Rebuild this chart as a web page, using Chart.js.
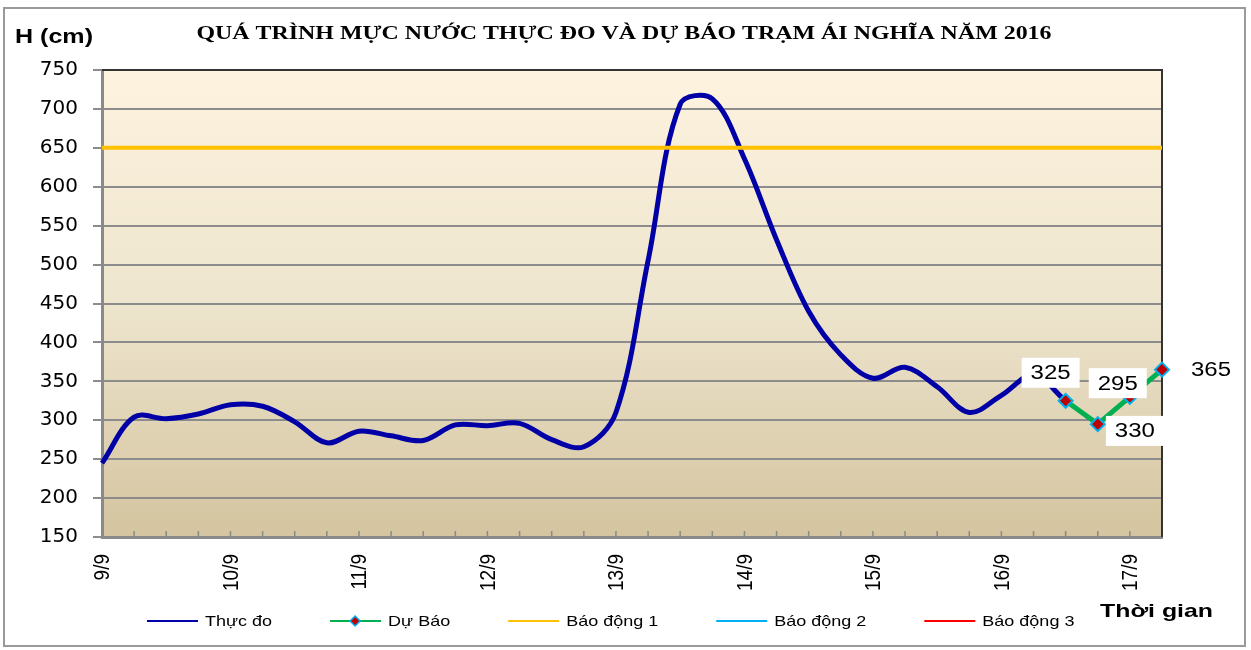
<!DOCTYPE html>
<html>
<head>
<meta charset="utf-8">
<script src="https://cdn.jsdelivr.net/npm/chart.js@4"></script>
<style>
  html, body { margin: 0; padding: 0; background: #fff; }
</style>
</head>
<body>
<canvas id="chart" width="1251" height="650"></canvas>
<script>
// observation times, every 6 hours
const times = [
    '9/9 1h', '9/9 7h', '9/9 13h', '9/9 19h',
    '10/9 1h', '10/9 7h', '10/9 13h', '10/9 19h',
    '11/9 1h', '11/9 7h', '11/9 13h', '11/9 19h',
    '12/9 1h', '12/9 7h', '12/9 13h', '12/9 19h',
    '13/9 1h', '13/9 7h', '13/9 13h', '13/9 19h',
    '14/9 1h', '14/9 7h', '14/9 13h', '14/9 19h',
    '15/9 1h', '15/9 7h', '15/9 13h', '15/9 19h',
    '16/9 1h', '16/9 7h', '16/9 13h', '16/9 19h',
    '17/9 1h', '17/9 7h'
];

// H (cm)
const thucDo = [
    245, 304, 302, 308, 320, 318, 298, 271,
    286, 280, 274, 294, 293, 296, 275, 266,
    310, 505, 706, 713, 636, 532, 440, 384,
    354, 368, 343, 310, 332, 358, 325, null,
    null, null
];
const duBao = [
    null, null, null, null, null, null, null, null,
    null, null, null, null, null, null, null, null,
    null, null, null, null, null, null, null, null,
    null, null, null, null, null, null, 325, 295,
    330, 365
];
const baoDong1 = [
    650, 650, 650, 650, 650, 650, 650, 650,
    650, 650, 650, 650, 650, 650, 650, 650,
    650, 650, 650, 650, 650, 650, 650, 650,
    650, 650, 650, 650, 650, 650, 650, 650,
    650, 650
];
const baoDong2 = [];
const baoDong3 = [];

const yTicks = [150, 200, 250, 300, 350, 400, 450, 500, 550, 600, 650, 700, 750];

const title = 'QUÁ TRÌNH MỰC NƯỚC THỰC ĐO VÀ DỰ BÁO TRẠM ÁI NGHĨA NĂM 2016';

// the original picture is stretched sideways, so free text is too
const SX = 1.2;

function dayLabel(i) {
    return times[i].endsWith(' 1h') ? times[i].split(' ')[0] : '';
}

function stretchedText(ctx, text, x, y, font, align, fitWidth) {
    ctx.save();
    ctx.font = font;
    ctx.fillStyle = '#000';
    ctx.textBaseline = 'middle';
    ctx.textAlign = 'left';
    const raw = ctx.measureText(text).width;
    const sx = fitWidth ? fitWidth / raw : SX;
    const w = raw * sx;
    let left = x;
    if (align === 'center') left = x - w / 2;
    else if (align === 'right') left = x - w;
    ctx.translate(left, y);
    ctx.scale(sx, 1);
    ctx.fillText(text, 0, 0);
    ctx.restore();
    return w;
}

function diamond(ctx, x, y, r, fill, stroke, lw) {
    ctx.save();
    ctx.beginPath();
    ctx.moveTo(x, y - r);
    ctx.lineTo(x + r, y);
    ctx.lineTo(x, y + r);
    ctx.lineTo(x - r, y);
    ctx.closePath();
    ctx.fillStyle = fill;
    ctx.fill();
    ctx.lineWidth = lw;
    ctx.strokeStyle = stroke;
    ctx.stroke();
    ctx.restore();
}

const backdrop = {
    id: 'backdrop',
    beforeDraw(chart) {
        const { ctx, chartArea: a } = chart;
        ctx.save();
        const g = ctx.createLinearGradient(0, a.top, 0, a.bottom);
        g.addColorStop(0, '#FDF3DF');
        g.addColorStop(0.5, '#EEE5CE');
        g.addColorStop(1, '#D4C49F');
        ctx.fillStyle = g;
        ctx.fillRect(a.left, a.top, a.right - a.left, a.bottom - a.top);
        ctx.restore();
    },
    beforeDatasetsDraw(chart) {
        const { ctx, chartArea: a } = chart;
        const xs = chart.scales.x;
        ctx.save();
        // small inner tick marks on the time axis
        ctx.strokeStyle = '#8a8a8a';
        ctx.lineWidth = 1.5;
        for (let i = 0; i < times.length; i++) {
            const x = xs.getPixelForTick(i);
            ctx.beginPath();
            ctx.moveTo(x, a.bottom - 6);
            ctx.lineTo(x, a.bottom);
            ctx.stroke();
        }
        // top and right frame of the plot
        ctx.strokeStyle = '#333';
        ctx.lineWidth = 2;
        ctx.beginPath();
        ctx.moveTo(a.left, a.top);
        ctx.lineTo(a.right, a.top);
        ctx.lineTo(a.right, a.bottom);
        ctx.stroke();
        ctx.restore();
    }
};

const decorations = {
    id: 'decorations',
    afterDraw(chart) {
        const { ctx } = chart;
        const xs = chart.scales.x;
        ctx.save();
        ctx.strokeStyle = '#9a9a9a';
        ctx.lineWidth = 2;
        ctx.strokeRect(4, 8, 1241, 638);
        ctx.restore();

        // day labels, turned upright like the original
        times.forEach((t, i) => {
            const label = dayLabel(i);
            if (!label) return;
            ctx.save();
            ctx.translate(xs.getPixelForTick(i), xs.top + 17);
            ctx.rotate(-Math.PI / 2);
            ctx.scale(1, SX);
            ctx.font = '19px "Liberation Sans"';
            ctx.fillStyle = '#000';
            ctx.textAlign = 'right';
            ctx.textBaseline = 'middle';
            ctx.fillText(label, 0, 1);
            ctx.restore();
        });

        stretchedText(ctx, title, 624, 34, 'bold 18px "Liberation Serif"', 'center', 855);
        stretchedText(ctx, 'H (cm)', 15, 37, 'bold 21px "Liberation Sans"', 'left', 78);
        stretchedText(ctx, 'Thời gian', 1100, 612, 'bold 19px "Liberation Sans"', 'left', 113);

        // legend
        let x = 147;
        const y = 621;
        chart.data.datasets.forEach(ds => {
            ctx.save();
            ctx.strokeStyle = ds.borderColor;
            ctx.lineWidth = 2;
            ctx.beginPath();
            ctx.moveTo(x, y);
            ctx.lineTo(x + 51, y);
            ctx.stroke();
            ctx.restore();
            if (ds.pointRadius > 0) {
                diamond(ctx, x + 25, y, 5, ds.pointBackgroundColor, ds.pointBorderColor, 1.5);
            }
            const w = stretchedText(ctx, ds.label, x + 58, y + 1, '15px "Liberation Sans"', 'left');
            x += 58 + w + 58;
        });
    }
};

const dataLabels = {
    id: 'dataLabels',
    afterDatasetsDraw(chart, args, opts) {
        const { ctx } = chart;
        const meta = chart.getDatasetMeta(1);
        meta.data.forEach((pt, i) => {
            const v = duBao[i];
            if (v === null) return;
            const off = opts.offsets[i] || [0, -30];
            const cx = pt.x + off[0];
            const cy = pt.y + off[1];
            ctx.save();
            ctx.fillStyle = '#fff';
            ctx.fillRect(cx - 29, cy - 15, 58, 30);
            ctx.restore();
            stretchedText(ctx, String(v), cx, cy + 1, '20px "Liberation Sans"', 'center');
        });
    }
};

new Chart(document.getElementById('chart'), {
    type: 'line',
    data: {
        labels: times,
        datasets: [
            {
                label: 'Thực đo',
                data: thucDo,
                borderColor: '#0000A6',
                borderWidth: 5,
                tension: 0.35,
                pointRadius: 0,
                order: 2
            },
            {
                label: 'Dự Báo',
                data: duBao,
                borderColor: '#00B050',
                borderWidth: 5,
                tension: 0,
                pointStyle: 'rectRot',
                pointRadius: 7,
                pointBackgroundColor: '#C00000',
                pointBorderColor: '#00B0F0',
                pointBorderWidth: 2,
                clip: false,
                order: 1
            },
            {
                label: 'Báo động 1',
                data: baoDong1,
                borderColor: '#FFC000',
                borderWidth: 4,
                pointRadius: 0,
                order: 0
            },
            {
                label: 'Báo động 2',
                data: baoDong2,
                borderColor: '#00B0F0',
                borderWidth: 4,
                pointRadius: 0,
                order: 0
            },
            {
                label: 'Báo động 3',
                data: baoDong3,
                borderColor: '#FF0000',
                borderWidth: 4,
                pointRadius: 0,
                order: 0
            }
        ]
    },
    options: {
        responsive: false,
        animation: false,
        devicePixelRatio: 1,
        layout: { padding: { top: 70, right: 89, left: 0, bottom: 0 } },
        plugins: {
            legend: { display: false },
            title: { display: false },
            tooltip: { enabled: false },
            dataLabels: {
                offsets: { 30: [-15, -28], 31: [20, -41], 32: [5, 34], 33: [49, 0] }
            }
        },
        scales: {
            x: {
                type: 'category',
                offset: false,
                grid: { display: false, drawTicks: false },
                border: { display: true, color: '#8a8a8a', width: 3 },
                ticks: { display: false, autoSkip: false },
                afterFit: s => { s.height = 113; }
            },
            y: {
                min: yTicks[0],
                max: yTicks[yTicks.length - 1],
                afterBuildTicks: s => { s.ticks = yTicks.map(v => ({ value: v })); },
                ticks: {
                    padding: 15,
                    color: '#000',
                    font: { family: 'DejaVu Sans', size: 20 }
                },
                grid: { color: '#8c8c8c', lineWidth: 2, tickLength: 9, tickColor: '#8c8c8c' },
                border: { color: '#8a8a8a', width: 3 },
                afterFit: s => { s.width = 102; }
            }
        }
    },
    plugins: [backdrop, dataLabels, decorations]
});
</script>
</body>
</html>
